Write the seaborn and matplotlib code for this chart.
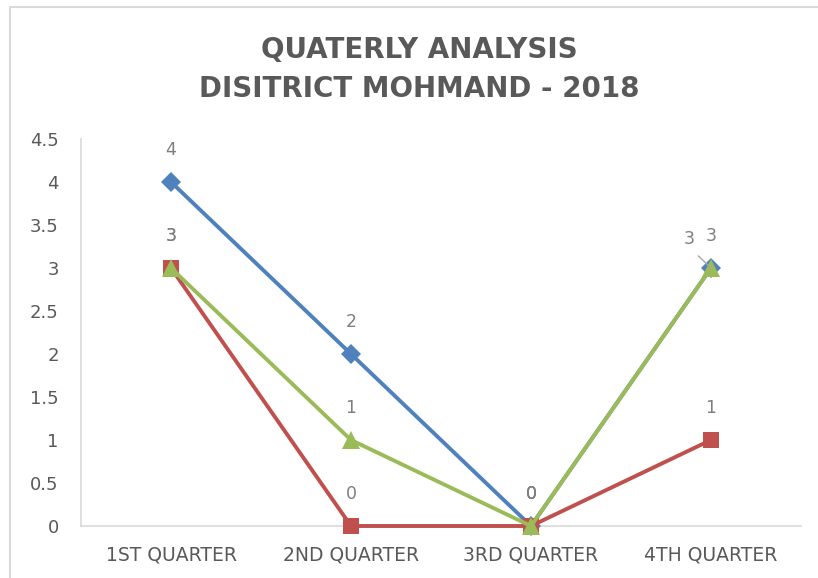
import matplotlib
matplotlib.use("Agg")
import matplotlib.pyplot as plt
from matplotlib.lines import Line2D
import pandas as pd
import seaborn as sns

# chart data
quarters = ["1ST QUARTER", "2ND QUARTER", "3RD QUARTER", "4TH QUARTER"]
series_names = ["Series1", "Series2", "Series3"]
blue_vals = [4, 2, 0, 3]
red_vals = [3, 0, 0, 1]
green_vals = [3, 1, 0, 3]

colors = {"Series1": "#4F81BD", "Series2": "#C0504D", "Series3": "#9BBB59"}
markers = {"Series1": "D", "Series2": "s", "Series3": "^"}
msizes = {"Series1": 10, "Series2": 12, "Series3": 13}

rows = []
for name, vals in zip(series_names, [blue_vals, red_vals, green_vals]):
    for i, v in enumerate(vals):
        rows.append({"series": name, "pos": i, "value": v})
df = pd.DataFrame(rows)

sns.set_style("white")
plt.rcParams["font.family"] = ["DejaVu Sans"]

fig = plt.figure(figsize=(8.18, 5.78), dpi=100)
ax = fig.add_axes([81 / 818, 52 / 578, 720 / 818, 387 / 578])

for name in series_names:
    sub = df[df["series"] == name]
    sns.lineplot(data=sub, x="pos", y="value", ax=ax, color=colors[name],
                 marker=markers[name], markersize=msizes[name],
                 markeredgewidth=0, linewidth=2.8, legend=False, clip_on=False,
                 zorder=3)

# data labels
label_col = "#7F7F7F"
for name in series_names:
    sub = df[df["series"] == name]
    for _, r in sub.iterrows():
        if name == "Series3" and r["pos"] == 3:
            # pushed-aside label with leader line
            ax.annotate(str(int(r["value"])), xy=(r["pos"], r["value"]),
                        xytext=(-16, 21), textcoords="offset points",
                        ha="center", va="center", fontsize=12.5, color=label_col,
                        arrowprops=dict(arrowstyle="-", color="#A6A6A6", lw=1,
                                        relpos=(0.6, 0), shrinkA=5, shrinkB=0))
            continue
        ax.annotate(str(int(r["value"])), xy=(r["pos"], r["value"]),
                    xytext=(0, 23), textcoords="offset points",
                    ha="center", va="center", fontsize=12.5, color=label_col)

ax.set_xlim(-0.5, 3.5)
ax.set_ylim(0, 4.5)
ax.set_xticks(range(len(quarters)))
ax.set_xticklabels(quarters)
ax.set_yticks([0, 0.5, 1, 1.5, 2, 2.5, 3, 3.5, 4, 4.5])
ax.set_yticklabels(["0", "0.5", "1", "1.5", "2", "2.5", "3", "3.5", "4", "4.5"])
ax.set_xlabel("")
ax.set_ylabel("")
ax.tick_params(axis="y", length=0, pad=16, labelsize=13, labelcolor="#595959")
ax.tick_params(axis="x", length=0, pad=14, labelsize=13.5, labelcolor="#595959")

for side in ["top", "right"]:
    ax.spines[side].set_visible(False)
for side in ["left", "bottom"]:
    ax.spines[side].set_color("#D9D9D9")
    ax.spines[side].set_linewidth(1.2)
    ax.spines[side].set_zorder(1)

fig.text(419 / 818, 1 - 50 / 578, "QUATERLY ANALYSIS", ha="center", va="center",
         fontsize=20, fontweight="bold", color="#595959")
fig.text(419 / 818, 1 - 89 / 578, "DISITRICT MOHMAND - 2018", ha="center", va="center",
         fontsize=20, fontweight="bold", color="#595959")

# chart area border
fig.add_artist(Line2D([10 / 818, 10 / 818], [0, 1 - 7 / 578], color="#D9D9D9", lw=1.5))
fig.add_artist(Line2D([10 / 818, 1], [1 - 7 / 578, 1 - 7 / 578], color="#D9D9D9", lw=1.5))

fig.savefig("out.png", dpi=100)
